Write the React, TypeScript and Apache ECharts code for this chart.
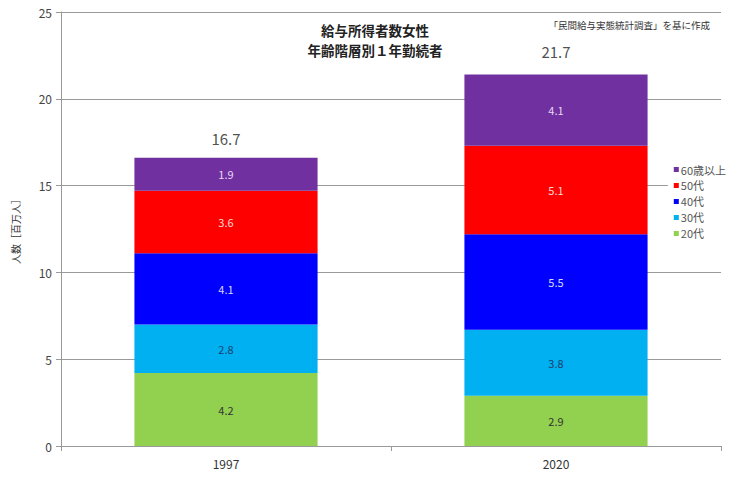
import React, { useEffect, useRef } from "react";
import * as echarts from "echarts";

const categories = ["1997", "2020"];
const seriesNames = ["20代", "30代", "40代", "50代", "60歳以上"];
const age20s = [4.2, 2.9];
const age30s = [2.8, 3.8];
const age40s = [4.1, 5.5];
const age50s = [3.6, 5.1];
const age60plus = [1.9, 4.1];
const totals = [16.7, 21.7];
const yTicks = [0, 5, 10, 15, 20, 25];

const colors = ["#92D050", "#00B0F0", "#0000FF", "#FF0000", "#7030A0"];
const labelColors = ["#333333", "#1F3F6F", "#D8D8FF", "#FFD8D8", "#E8D8F4"];
const FONT = "'Noto Sans CJK JP', sans-serif";

export default function App() {
  const ref = useRef<HTMLDivElement>(null);
  useEffect(() => {
    if (!ref.current) return;
    const chart = echarts.init(ref.current, null, { renderer: "svg" });
    const values = [age20s, age30s, age40s, age50s, age60plus];
    const barSeries = values.map((v, i) => ({
      name: seriesNames[i],
      type: "bar",
      stack: "total",
      barWidth: "55.5%",
      data: v,
      itemStyle: { color: colors[i] },
      label: {
        show: true,
        position: "inside",
        color: labelColors[i],
        fontSize: 11,
        fontFamily: FONT,
        formatter: (p: any) => Number(p.value).toFixed(1),
      },
    }));
    chart.setOption({
      animation: false,
      backgroundColor: "#ffffff",
      textStyle: { fontFamily: FONT },
      grid: { left: 60, right: 12, top: 11, bottom: 33, containLabel: false },
      graphic: [
        {
          type: "text",
          x: 374,
          y: 29,
          style: {
            text: "給与所得者数女性",
            fontSize: 13.5,
            fontWeight: "bold",
            fontFamily: FONT,
            fill: "#222",
            align: "center",
            verticalAlign: "middle",
          },
          z: 100,
        },
        {
          type: "text",
          x: 374,
          y: 49,
          style: {
            text: "年齢階層別１年勤続者",
            fontSize: 13.5,
            fontWeight: "bold",
            fontFamily: FONT,
            fill: "#222",
            align: "center",
            verticalAlign: "middle",
          },
          z: 100,
        },
        {
          type: "text",
          x: 709,
          y: 19,
          style: {
            text: "「民間給与実態統計調査」を基に作成",
            fontSize: 9.5,
            fontFamily: FONT,
            fill: "#333",
            align: "right",
          },
          z: 100,
        },
      ],
      legend: {
        orient: "vertical",
        right: 3,
        top: 160,
        data: [...seriesNames].reverse(),
        itemWidth: 5,
        itemHeight: 5,
        itemGap: 5,
        icon: "rect",
        backgroundColor: "#ffffff",
        padding: [3, 4, 3, 6],
        textStyle: { fontSize: 11, color: "#555", fontFamily: FONT, padding: [0, 0, 0, -3] },
      },
      xAxis: {
        type: "category",
        data: categories,
        axisLine: { show: true, lineStyle: { color: "#999" } },
        axisTick: { show: true, length: 5, lineStyle: { color: "#999" } },
        axisLabel: { fontSize: 12, color: "#333", margin: 11, fontFamily: FONT },
      },
      yAxis: {
        type: "value",
        min: yTicks[0],
        max: yTicks[yTicks.length - 1],
        interval: 5,
        name: "人数［百万人］",
        nameLocation: "middle",
        nameRotate: 90,
        nameGap: 41,
        nameTextStyle: { fontSize: 10, color: "#333", fontFamily: FONT },
        axisLine: { show: true, lineStyle: { color: "#999" } },
        axisTick: { show: true, length: 5, lineStyle: { color: "#999" } },
        axisLabel: { fontSize: 12, color: "#444", margin: 9, fontFamily: FONT },
        splitLine: { show: true, lineStyle: { color: "#999", width: 1 } },
      },
      series: [
        ...barSeries,
        {
          name: "合計",
          type: "scatter",
          symbolSize: 0,
          data: totals,
          silent: true,
          label: {
            show: true,
            position: "top",
            distance: 10,
            fontSize: 15,
            color: "#222",
            fontFamily: FONT,
            formatter: (p: any) => Number(p.value).toFixed(1),
          },
        },
      ],
    });
    return () => chart.dispose();
  }, []);
  return (
    <div
      style={{
        width: 734,
        height: 480,
        margin: -8,
        boxSizing: "border-box",
        border: "1px solid #AAAAAA",
        borderRadius: 3,
        background: "#ffffff",
        overflow: "hidden",
      }}
    >
      <div ref={ref} style={{ width: 732, height: 478 }} />
    </div>
  );
}
